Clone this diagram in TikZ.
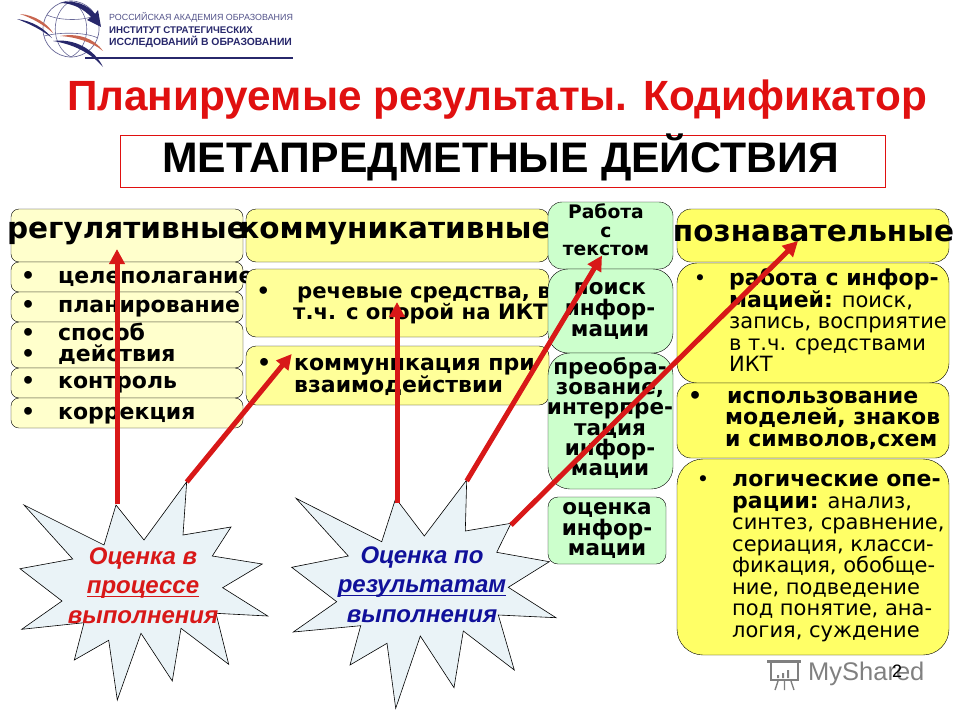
\documentclass[tikz,border=0pt]{standalone}
\usepackage{fontspec}
\setmainfont{DejaVu Sans}
\newfontfamily\arialfont{Liberation Sans}
\usetikzlibrary{arrows.meta}

\definecolor{titlered}{HTML}{E01010}
\definecolor{arrowred}{HTML}{D81818}
\definecolor{logonavy}{HTML}{27276B}
\definecolor{logored}{HTML}{C8654F}
\definecolor{paleyellow}{HTML}{FFFFCC}
\definecolor{midyellow}{HTML}{FFFF99}
\definecolor{brightyellow}{HTML}{FFFF66}
\definecolor{palegreen}{HTML}{CCFFCC}
\definecolor{burstfill}{HTML}{EAF3F7}
\definecolor{burstblue}{HTML}{10109A}

\tikzstyle{regbox}=[draw, rounded corners=8pt, fill=paleyellow, inner sep=0pt]
\tikzstyle{combox}=[regbox, rounded corners=10pt, fill=midyellow]
\tikzstyle{txtbox}=[regbox, rounded corners=14pt, fill=palegreen]
\tikzstyle{cogbox}=[regbox, rounded corners=14pt, fill=brightyellow]
\tikzstyle{head}=[inner sep=0pt, font=\bfseries\fontsize{29.5}{30}\selectfont]
\tikzstyle{item}=[inner sep=0pt, anchor=west, align=left, font=\bfseries\fontsize{22}{20}\selectfont]
\tikzstyle{plain}=[inner sep=0pt, anchor=west, align=left, font=\fontsize{21}{21.3}\selectfont]
\tikzstyle{mid}=[inner sep=0pt, align=center, font=\bfseries\fontsize{21.5}{20.2}\selectfont]
\tikzstyle{burst}=[draw=black, line width=0.6pt, fill=burstfill, line join=miter]
\tikzstyle{burstlabel}=[inner sep=0pt, align=center, font=\arialfont\bfseries\itshape\fontsize{24}{29.5}\selectfont]
\tikzstyle{redarrow}=[line width=5pt, draw=arrowred, -{Triangle[length=15pt, width=15pt, fill=arrowred]}]

\newcommand{\bul}{\llap{•\hspace{23pt}}}
\newcommand{\bb}[1]{\textbf{\fontsize{22}{20}\selectfont #1}}
\newcommand{\ubar}[1]{\leavevmode\setbox0\hbox{#1}\rlap{\rule[-3.6pt]{\wd0}{1.7pt}}\box0}

\begin{document}
\begin{tikzpicture}[x=1pt, y=-1pt]
\useasboundingbox (0,0) rectangle (960,720);

% logo
\draw[logonavy!70, line width=0.7pt] (71,29) circle (28);
\draw[logonavy!70, line width=0.6pt] (71,1) .. controls (50,12) and (50,46) .. (71,57);
\draw[logonavy!70, line width=0.6pt] (71,1) .. controls (92,12) and (92,46) .. (71,57);
\draw[logonavy!70, line width=0.6pt] (47,15) .. controls (60,21) and (85,21) .. (96,15);
\draw[logonavy!70, line width=0.6pt] (44,36) .. controls (60,32) and (85,32) .. (98,38);
\fill[logonavy] (60,3) .. controls (75,-1) and (88,5) .. (95,14) -- (98,10) -- (101,27) -- (87,20) -- (91,17) .. controls (84,9) and (72,3) .. (60,3) -- cycle;
\fill[logored] (20,14) .. controls (35,15) and (48,24) .. (53,33) .. controls (44,25) and (32,18) .. (20,14) -- cycle;
\fill[logored] (60,36) .. controls (78,33) and (94,38) .. (103,51) .. controls (92,42) and (76,37) .. (60,36) -- cycle;
\fill[logonavy] (17,19) .. controls (32,21) and (44,28) .. (52,38) .. controls (42,30) and (30,24) .. (17,19) -- cycle;
\fill[logonavy] (53,41) .. controls (75,38) and (95,50) .. (103,67) .. controls (90,52) and (72,44) .. (53,41) -- cycle;
\fill[logonavy] (85,56.5) rectangle (293,59);
\node[inner sep=0pt, anchor=west, text=logonavy!80, font=\arialfont\fontsize{8.9}{10}\selectfont] (acad) at (109,17) {РОССИЙСКАЯ АКАДЕМИЯ ОБРАЗОВАНИЯ};
\node[inner sep=0pt, anchor=west, text=logonavy, font=\arialfont\bfseries\fontsize{9.7}{12}\selectfont] (inst) at (109,30) {ИНСТИТУТ СТРАТЕГИЧЕСКИХ};
\node[inner sep=0pt, anchor=west, text=logonavy, font=\arialfont\bfseries\fontsize{10.4}{12}\selectfont] (issl) at (109,42) {ИССЛЕДОВАНИЙ В ОБРАЗОВАНИИ};

% titles
\node[inner sep=0pt, text=titlered, font=\arialfont\bfseries\fontsize{42.3}{44}\selectfont] (title) at (497,100) {Планируемые результаты. Кодификатор};
\node[draw=titlered, fill=white, inner sep=0pt, minimum width=765pt, minimum height=52pt] (framed) at (502.5,161) {};
\node[inner sep=0pt, font=\arialfont\bfseries\fontsize{42.7}{44}\selectfont] (meta) at (500.5,157) {МЕТАПРЕДМЕТНЫЕ ДЕЙСТВИЯ};

% left column
\node[regbox, minimum width=232pt, minimum height=53pt] (regul) at (127,235.5) {};
\node[head] (regulT) at (127,233) {регулятивные};
\foreach \name/\ypos/\hgt in {goal/277/30, plan/307/30, way/345/46, ctrl/383/30, corr/413/30}
  \node[regbox, minimum width=232pt, minimum height=\hgt pt] (\name) at (127,\ypos) {};
\node[item] (goalT) at (58,278.5) {\bul целеполагание};
\node[item] (planT) at (58,309) {\bul планирование};
\node[item, font=\bfseries\fontsize{22}{21}\selectfont] (wayT) at (58,343.5) {\bul способ\\\bul действия};
\node[item] (ctrlT) at (58,385) {\bul контроль};
\node[item] (corrT) at (58,416) {\bul коррекция};

% communicative column
\node[combox, minimum width=303pt, minimum height=53pt] (comm) at (397.5,235.5) {};
\node[head] (commT) at (395.5,233) {коммуникативные};
\node[combox, minimum width=303pt, minimum height=68pt] (speech) at (397.5,303) {};
\node[combox, minimum width=303pt, minimum height=59pt] (inter) at (397.5,375.5) {};
\node[item, font=\bfseries\fontsize{21.2}{21}\selectfont] (speechT) at (293,305) {\bul\hspace{4pt}речевые средства, в\\т.ч. с опорой на ИКТ};
\node[item, font=\bfseries\fontsize{22}{21}\selectfont] (interT) at (294,377) {\bul коммуникация при\\взаимодействии};

% text column
\node[txtbox, minimum width=125pt, minimum height=67pt] (work) at (610.5,235.5) {};
\node[txtbox, rounded corners=20pt, minimum width=125pt, minimum height=84pt] (search) at (610.5,311) {};
\node[txtbox, rounded corners=22pt, minimum width=125pt, minimum height=136pt] (trans) at (610.5,421) {};
\node[txtbox, rounded corners=10pt, minimum width=118pt, minimum height=67pt] (rate) at (607,530.5) {};
\node[mid, font=\bfseries\fontsize{18.7}{18.3}\selectfont] (workT) at (606,230) {Работа\\с\\текстом};
\node[mid, font=\bfseries\fontsize{21.5}{21}\selectfont] (searchT) at (610,311) {поиск\\инфор-\\мации};
\node[mid] (transT) at (610,418) {преобра-\\зование,\\интерпре-\\тация\\инфор-\\мации};
\node[mid, font=\bfseries\fontsize{21.5}{20.8}\selectfont] (rateT) at (607,530.5) {оценка\\инфор-\\мации};

% cognitive column
\node[cogbox, minimum width=272pt, minimum height=53pt] (cog) at (813,235.5) {};
\node[head] (cogT) at (813.5,233) {познавательные};
\node[cogbox, rounded corners=20pt, minimum width=272pt, minimum height=120pt] (infw) at (813,323) {};
\node[cogbox, minimum width=272pt, minimum height=75pt] (model) at (813,420.5) {};
\node[cogbox, rounded corners=26pt, minimum width=272pt, minimum height=196pt] (logic) at (813,557) {};
\node[plain] (infwT) at (729,319.5) {\bul\bb{работа с инфор-}\\\bb{мацией:} поиск,\\запись, восприятие\\в т.ч. средствами\\ИКТ};
\node[item, font=\bfseries\fontsize{22}{21.5}\selectfont] (modelT) at (725,420) {\bul\hspace{2pt}использование\\моделей, знаков\\и символов,схем};
\node[plain, font=\fontsize{21}{21.5}\selectfont] (logicT) at (732,558) {\bul\bb{логические опе-}\\\bb{рации:} анализ,\\синтез, сравнение,\\сериация, класси-\\фикация, обобще-\\ние, подведение\\под понятие, ана-\\логия, суждение};

% bursts
\draw[burst] (24,505) -- (104,545) -- (116,505) -- (144,540) -- (186.7,481.7) -- (183,535) -- (231,527) -- (212.3,556) -- (262.3,564) -- (222.7,587.7) -- (267.7,616) -- (216,613.3) -- (228.7,664.3) -- (181,628.3) -- (172.3,681) -- (141,633.3) -- (117.3,700) -- (108.7,640.3) -- (74.3,660) -- (84,622.7) -- (21.7,629.3) -- (62,601) -- (20,568.7) -- (72.7,559) -- cycle;
\draw[burst] (296,498.3) -- (381.7,541.7) -- (395.7,498.3) -- (424.3,536) -- (466.7,480) -- (465.3,531) -- (511,523.3) -- (496.7,552.3) -- (549.3,561.7) -- (508.3,587.3) -- (556,617.7) -- (498.3,615) -- (514.3,670) -- (463.3,631) -- (454,687.7) -- (420.3,636) -- (395.7,708.3) -- (387,643.3) -- (350,665) -- (360.7,625.7) -- (293.3,632) -- (336.7,601.7) -- (291.7,567.3) -- (348.3,556) -- cycle;
\node[burstlabel, text=arrowred] (procT) at (143,585.5) {Оценка в\\\ubar{процессе}\\выполнения};
\node[burstlabel, text=burstblue] (resT) at (422,584.5) {Оценка по\\\ubar{результатам}\\выполнения};

% arrows
\coordinate (procA) at (117,504);
\coordinate (procB) at (186.7,482);
\coordinate (resA) at (397,503);
\coordinate (resB) at (466.7,481);
\coordinate (resC) at (511,525);
\coordinate (toRegul) at (117,249);
\coordinate (toInter) at (291.7,354);
\coordinate (toSpeech) at (397,302);
\coordinate (toWork) at (602,255.5);
\coordinate (toCog) at (798,241);
\draw[redarrow] (procA) -- (toRegul);
\draw[redarrow] (procB) -- (toInter);
\draw[redarrow] (resA) -- (toSpeech);
\draw[redarrow] (resB) -- (toWork);
\draw[redarrow] (resC) -- (toCog);

% watermark
\draw[gray, line width=1.6pt] (771,662) rectangle (798,680);
\fill[gray] (767,660) rectangle (801,663);
\fill[gray] (777,675) rectangle (779,678) (782,673) rectangle (784,678) (787,670) rectangle (789,678);
\draw[gray, line width=1.4pt] (778,681) -- (775,690) (791,681) -- (794,690) (784.5,681) -- (784.5,690);
\node[inner sep=0pt, anchor=west, text=gray, font=\arialfont\fontsize{25.5}{27}\selectfont] (share) at (808,674) {MyShared};
\node[inner sep=0pt, font=\arialfont\fontsize{18}{20}\selectfont] (pageno) at (897,671) {2};
\end{tikzpicture}
\end{document}
